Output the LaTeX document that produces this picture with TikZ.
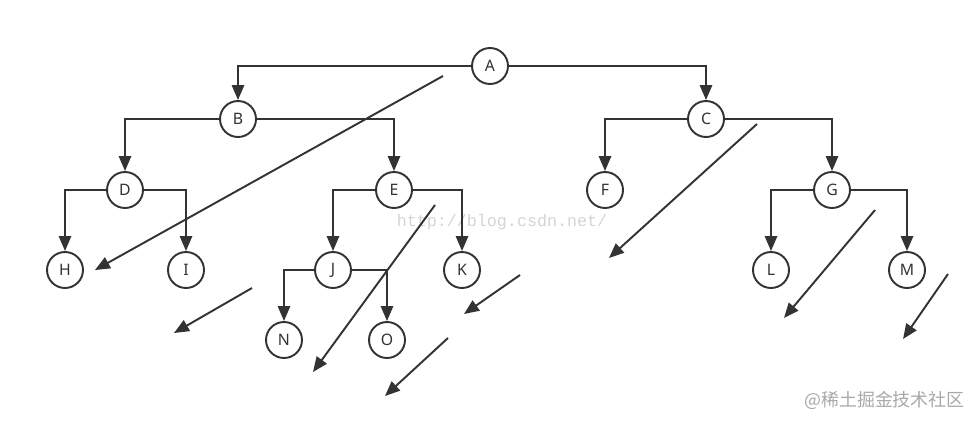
\documentclass[tikz,border=0pt]{standalone}
\usepackage{fontspec}
\setmainfont{Noto Sans}
\newfontfamily\cjkfont{Noto Sans CJK SC}
\newfontfamily\markfont{Liberation Mono}
\usetikzlibrary{arrows.meta}
\definecolor{TreeDark}{HTML}{333333}
\definecolor{MarkGray}{HTML}{D4D4D4}
\definecolor{SiteGray}{HTML}{A8A8A8}

\begin{document}
\begin{tikzpicture}[x=0.02cm, y=-0.02cm,
    tnode/.style={circle, draw=TreeDark, fill=white, line width=1.1pt,
                  minimum size=0.72cm, inner sep=0pt, font=\fontsize{9}{10}\selectfont,
                  text=TreeDark},
    arr/.style={-{Triangle[length=8.5pt, width=7pt]}, line width=1.1pt, TreeDark},
    urlmark/.style={font=\markfont\fontsize{9.5}{12}\selectfont, text=MarkGray, inner sep=0pt}
  ]
    \useasboundingbox (0,0) rectangle (980,426);

    % watermarks
    \node[urlmark] (url) at (502,222) {http://blog.csdn.net/};
    \node[font=\cjkfont\fontsize{10.2}{12}\selectfont, text=SiteGray, anchor=east, inner sep=0pt] (site) at (965,400) {@稀土掘金技术社区};

    % tree
    \node[tnode] (A) at (490,66) {A};
    \node[tnode] (B) at (238,119) {B};
    \node[tnode] (C) at (706,119) {C};
    \node[tnode] (D) at (125,190) {D};
    \node[tnode] (E) at (394,190) {E};
    \node[tnode] (F) at (605,190) {F};
    \node[tnode] (G) at (832,190) {G};
    \node[tnode] (H) at (65,270) {H};
    \node[tnode] (I) at (186,270) {I};
    \node[tnode] (J) at (333,270) {J};
    \node[tnode] (K) at (462,270) {K};
    \node[tnode] (L) at (771,270) {L};
    \node[tnode] (M) at (907,270) {M};
    \node[tnode] (N) at (284,340) {N};
    \node[tnode] (O) at (387,340) {O};

    \draw[arr] (A.west) -| (B.north);
    \draw[arr] (A.east) -| (C.north);
    \draw[arr] (B.west) -| (D.north);
    \draw[arr] (B.east) -| (E.north);
    \draw[arr] (C.west) -| (F.north);
    \draw[arr] (C.east) -| (G.north);
    \draw[arr] (D.west) -| (H.north);
    \draw[arr] (D.east) -| (I.north);
    \draw[arr] (E.west) -| (J.north);
    \draw[arr] (E.east) -| (K.north);
    \draw[arr] (G.west) -| (L.north);
    \draw[arr] (G.east) -| (M.north);
    \draw[arr] (J.west) -| (N.north);
    \draw[arr] (J.east) -| (O.north);

    % thread arrows
    \coordinate (s1) at (443,76);  \coordinate (e1) at (95,270);
    \coordinate (s2) at (252,288); \coordinate (e2) at (174,333);
    \coordinate (s3) at (435,205); \coordinate (e3) at (313,372);
    \coordinate (s4) at (520,275); \coordinate (e4) at (464,314);
    \coordinate (s5) at (448,338); \coordinate (e5) at (385,396);
    \coordinate (s6) at (757,124); \coordinate (e6) at (609,258);
    \coordinate (s7) at (875,210); \coordinate (e7) at (784,318);
    \coordinate (s8) at (948,274); \coordinate (e8) at (903,339);
    \foreach \i in {1,...,8}
      \draw[arr] (s\i) -- (e\i);
  \end{tikzpicture}
\end{document}
